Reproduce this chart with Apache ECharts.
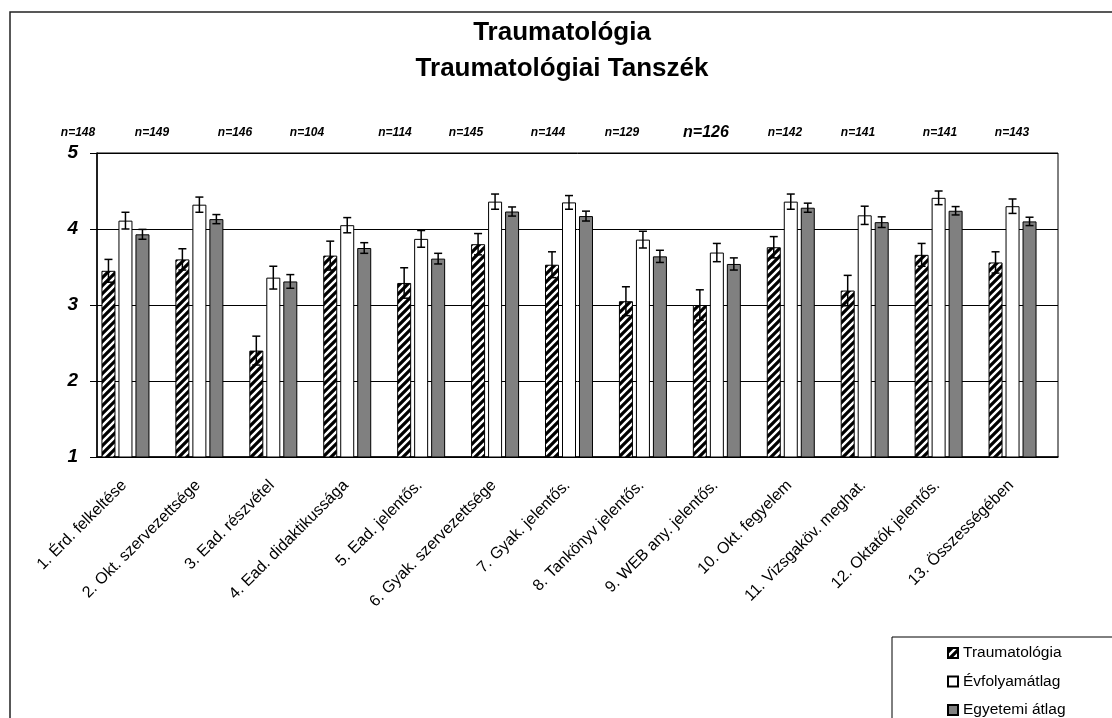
<!DOCTYPE html>
<html lang="hu">
<head>
<meta charset="UTF-8">
<title>Traumatológia</title>
<script src="https://cdn.jsdelivr.net/npm/echarts@6/dist/echarts.min.js"></script>
<style>
  html, body { margin: 0; padding: 0; background: #fff; }
  #main { width: 1112px; height: 718px; }
</style>
</head>
<body>
<div id="main"></div>
<script>
// kategóriák
var categories = [
  '1. Érd. felkeltése', '2. Okt. szervezettsége', '3. Ead. részvétel',
  '4. Ead. didaktikussága', '5. Ead. jelentős.', '6. Gyak. szervezettsége',
  '7. Gyak. jelentős.', '8. Tankönyv jelentős.', '9. WEB any. jelentős.',
  '10. Okt. fegyelem', '11. Vizsgaköv. meghat.', '12. Oktatók jelentős.',
  '13. Összességében'
];
var seriesNames = ['Traumatológia', 'Évfolyamátlag', 'Egyetemi átlag'];

var trauma    = [3.45, 3.60, 2.40, 3.65, 3.29, 3.80, 3.53, 3.05, 3.00, 3.76, 3.19, 3.66, 3.56];
var traumaErr = [0.15, 0.14, 0.19, 0.19, 0.20, 0.14, 0.17, 0.19, 0.20, 0.14, 0.20, 0.15, 0.14];
var evf       = [4.11, 4.32, 3.36, 4.05, 3.87, 4.36, 4.35, 3.86, 3.69, 4.36, 4.18, 4.41, 4.30];
var evfErr    = [0.11, 0.10, 0.15, 0.10, 0.11, 0.10, 0.09, 0.11, 0.12, 0.10, 0.12, 0.09, 0.095];
var egy       = [3.93, 4.13, 3.31, 3.75, 3.61, 4.23, 4.17, 3.64, 3.54, 4.28, 4.09, 4.24, 4.10];
var egyErr    = [0.065, 0.06, 0.09, 0.07, 0.07, 0.06, 0.065, 0.08, 0.08, 0.06, 0.07, 0.055, 0.055];

// n= feliratok
var nLabels = ['n=148', 'n=149', 'n=146', 'n=104', 'n=114', 'n=145', 'n=144',
               'n=129', 'n=126', 'n=142', 'n=141', 'n=141', 'n=143'];
var nX = [78, 152, 235, 307, 395, 466, 548, 622, 706, 785, 858, 940, 1012];

var FONT = '"Liberation Sans", Arial, sans-serif';
var BAR_W = 14, BAR_STEP = 17;

// csíkos minta
function hatch() {
  var c = document.createElement('canvas');
  c.width = 8; c.height = 8;
  var ctx = c.getContext('2d');
  ctx.fillStyle = '#000';
  ctx.fillRect(0, 0, 8, 8);
  ctx.strokeStyle = '#fff';
  ctx.lineWidth = 2.4;
  ctx.beginPath();
  ctx.moveTo(-2, 10); ctx.lineTo(10, -2);
  ctx.moveTo(-2, 2); ctx.lineTo(2, -2);
  ctx.moveTo(6, 10); ctx.lineTo(10, 6);
  ctx.stroke();
  return c;
}

function errData(vals, errs) {
  return vals.map(function (v, i) { return [i, v, errs[i]]; });
}

// hibasáv (slot: a csoporton belüli hely)
function errSeries(vals, errs, slot) {
  return {
    type: 'custom',
    z: 5,
    silent: true,
    data: errData(vals, errs),
    renderItem: function (params, api) {
      var i = api.value(0), v = api.value(1), e = api.value(2);
      var top = api.coord([i, v + e]);
      var bot = api.coord([i, v - e]);
      var x = top[0] + (slot - 1.5) * BAR_STEP;
      var st = { stroke: '#000', lineWidth: 1.5 };
      return {
        type: 'group',
        children: [
          { type: 'line', shape: { x1: x, y1: top[1], x2: x, y2: bot[1] }, style: st },
          { type: 'line', shape: { x1: x - 4, y1: top[1], x2: x + 4, y2: top[1] }, style: st },
          { type: 'line', shape: { x1: x - 4, y1: bot[1], x2: x + 4, y2: bot[1] }, style: st }
        ]
      };
    }
  };
}

var graphics = [
  { type: 'rect', z: 0, shape: { x: 10, y: 12, width: 1200, height: 800 },
    style: { fill: 'none', stroke: '#222', lineWidth: 1.5 } },
  { type: 'rect', z: 0, shape: { x: 892, y: 637, width: 400, height: 200 },
    style: { fill: '#fff', stroke: '#000', lineWidth: 1 } },
  { type: 'text', style: { x: 562, y: 33, text: 'Traumatológia', textAlign: 'center',
    textVerticalAlign: 'middle', font: 'bold 26px ' + FONT, fill: '#000' } },
  { type: 'text', style: { x: 562, y: 69, text: 'Traumatológiai Tanszék', textAlign: 'center',
    textVerticalAlign: 'middle', font: 'bold 26px ' + FONT, fill: '#000' } }
];
nLabels.forEach(function (t, i) {
  graphics.push({
    type: 'text',
    style: { x: nX[i], y: 133, text: t, textAlign: 'center', textVerticalAlign: 'middle',
      font: 'italic bold ' + (t === 'n=126' ? 16 : 12) + 'px ' + FONT, fill: '#000' }
  });
});

var myChart = echarts.init(document.getElementById('main'));
myChart.setOption({
  animation: false,
  backgroundColor: '#fff',
  graphic: graphics,
  grid: { left: 97, top: 153, width: 961, height: 304, show: true,
    borderColor: '#000', borderWidth: 1 },
  legend: {
    data: seriesNames,
    orient: 'vertical',
    left: 947, top: 645, height: 120,
    padding: 0,
    z: 10,
    icon: 'rect',
    itemWidth: 10, itemHeight: 10, itemGap: 12.5,
    textStyle: { fontFamily: FONT, fontSize: 15.5, color: '#000', lineHeight: 16 }
  },
  xAxis: {
    type: 'category',
    data: categories,
    axisLine: { lineStyle: { color: '#000', width: 1.5 } },
    axisTick: { length: 6, lineStyle: { color: '#000' } },
    axisLabel: { interval: 0, rotate: 45, margin: 16, padding: [0, 14, 0, 0],
      fontFamily: FONT, fontSize: 16, color: '#000' }
  },
  yAxis: {
    type: 'value',
    min: 1, max: 5, interval: 1,
    axisLine: { show: true, lineStyle: { color: '#000', width: 1.5 } },
    axisTick: { show: true, length: 7, lineStyle: { color: '#000' } },
    axisLabel: { margin: 19, fontFamily: FONT, fontSize: 19, fontWeight: 'bold',
      fontStyle: 'italic', color: '#000' },
    splitLine: { lineStyle: { color: '#000', width: 1 } }
  },
  series: [
    { name: seriesNames[0], type: 'bar', data: trauma, barWidth: BAR_W, barGap: '21.4%',
      itemStyle: { color: { image: hatch(), repeat: 'repeat' }, borderColor: '#000', borderWidth: 1 } },
    { name: seriesNames[1], type: 'bar', data: evf, barWidth: BAR_W,
      itemStyle: { color: '#fff', borderColor: '#000', borderWidth: 1 } },
    { name: seriesNames[2], type: 'bar', data: egy, barWidth: BAR_W,
      itemStyle: { color: '#808080', borderColor: '#000', borderWidth: 1 } },
    // üres negyedik hely, mint az eredetin
    { name: 'ures', type: 'bar', data: categories.map(function () { return '-'; }), barWidth: BAR_W },
    errSeries(trauma, traumaErr, 0),
    errSeries(evf, evfErr, 1),
    errSeries(egy, egyErr, 2)
  ]
});
</script>
</body>
</html>
